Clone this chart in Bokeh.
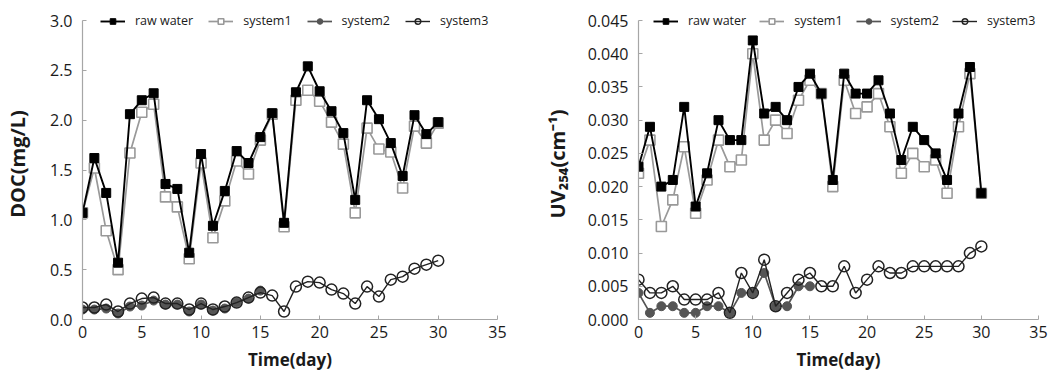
from bokeh.plotting import figure
from bokeh.layouts import row
from bokeh.models import Range1d, FixedTicker, Legend, LegendItem, NumeralTickFormatter
from bokeh.embed import file_html
from bokeh.resources import INLINE

days = list(range(31))
days_s2 = list(range(16))
x_ticks = [0, 5, 10, 15, 20, 25, 30, 35]
doc_ticks = [0.0, 0.5, 1.0, 1.5, 2.0, 2.5, 3.0]
uv_ticks = [0.0, 0.005, 0.010, 0.015, 0.020, 0.025, 0.030, 0.035, 0.040, 0.045]
series_names = ["raw water", "system1", "system2", "system3"]

doc_raw = [1.07, 1.62, 1.27, 0.57, 2.06, 2.20, 2.27, 1.36, 1.31, 0.67, 1.66, 0.94, 1.29, 1.69, 1.57, 1.83,
           2.07, 0.97, 2.28, 2.54, 2.29, 2.09, 1.87, 1.20, 2.20, 2.01, 1.77, 1.44, 2.05, 1.86, 1.98]
doc_s1 = [1.07, 1.52, 0.89, 0.50, 1.67, 2.08, 2.16, 1.23, 1.13, 0.61, 1.57, 0.82, 1.19, 1.59, 1.46, 1.80,
          2.06, 0.93, 2.20, 2.30, 2.19, 1.98, 1.76, 1.07, 1.92, 1.71, 1.68, 1.32, 1.94, 1.77, 1.97]
doc_s2 = [0.10, 0.10, 0.11, 0.06, 0.13, 0.14, 0.19, 0.15, 0.15, 0.08, 0.15, 0.09, 0.11, 0.17, 0.21, 0.29]
doc_s3 = [0.12, 0.12, 0.15, 0.08, 0.16, 0.21, 0.22, 0.16, 0.16, 0.10, 0.16, 0.10, 0.13, 0.17, 0.22, 0.27,
          0.24, 0.08, 0.33, 0.38, 0.37, 0.30, 0.26, 0.16, 0.33, 0.23, 0.40, 0.43, 0.51, 0.55, 0.59]

uv_raw = [0.023, 0.029, 0.020, 0.021, 0.032, 0.017, 0.022, 0.030, 0.027, 0.027, 0.042, 0.031, 0.032, 0.030,
          0.035, 0.037, 0.034, 0.021, 0.037, 0.034, 0.034, 0.036, 0.031, 0.024, 0.029, 0.027, 0.025, 0.021,
          0.031, 0.038, 0.019]
uv_s1 = [0.022, 0.027, 0.014, 0.018, 0.026, 0.016, 0.021, 0.027, 0.023, 0.024, 0.040, 0.027, 0.030, 0.028,
         0.033, 0.036, 0.034, 0.020, 0.036, 0.031, 0.032, 0.034, 0.029, 0.022, 0.025, 0.023, 0.024, 0.019,
         0.029, 0.037, 0.019]
uv_s2 = [0.004, 0.001, 0.002, 0.002, 0.001, 0.001, 0.002, 0.002, 0.001, 0.004, 0.004, 0.007, 0.002, 0.002,
         0.005, 0.005]
uv_s3 = [0.006, 0.004, 0.004, 0.005, 0.003, 0.003, 0.003, 0.004, 0.001, 0.007, 0.004, 0.009, 0.002, 0.004,
         0.006, 0.007, 0.005, 0.005, 0.008, 0.004, 0.006, 0.008, 0.007, 0.007, 0.008, 0.008, 0.008, 0.008,
         0.008, 0.010, 0.011]

FONT = "Open Sans"
AX = "#a6a6a6"
TXT = "#1a1a1a"


def make(width, ymax, yticks, yfmt, ylabel, raw, s1, s2, s3, bl, br, ylab_standoff, legend_x, spacing):
    # frame spans from 12px above the top tick to the x axis; headroom keeps the legend unclipped
    head = ymax * 12.0 / 299.0
    p = figure(width=width, height=373, output_backend="svg", toolbar_location=None,
               x_range=Range1d(0, 35), y_range=Range1d(0, ymax + head),
               min_border_left=bl, min_border_right=br, min_border_top=8, min_border_bottom=54)
    p.grid.visible = False
    p.outline_line_color = None
    for ax in (p.xaxis[0], p.yaxis[0]):
        ax.axis_line_color = AX
        ax.axis_line_width = 1.2
        ax.major_tick_line_color = AX
        ax.major_tick_in = 4
        ax.major_tick_out = 0
        ax.minor_tick_line_color = None
        ax.major_label_text_font = FONT
        ax.major_label_text_font_size = "16px"
        ax.major_label_text_color = TXT
        ax.axis_label_text_font = FONT
        ax.axis_label_text_font_style = "bold"
        ax.axis_label_text_color = TXT
    p.yaxis.bounds = (0, ymax)
    p.xaxis.ticker = FixedTicker(ticks=x_ticks)
    p.yaxis.ticker = FixedTicker(ticks=yticks)
    p.yaxis.formatter = NumeralTickFormatter(format=yfmt)
    p.xaxis.major_label_standoff = 6
    p.yaxis.major_label_standoff = 10
    p.xaxis.axis_label = "Time(day)"
    p.xaxis.axis_label_text_font_size = "17px"
    p.xaxis.axis_label_standoff = 7
    p.yaxis.axis_label = ylabel
    p.yaxis.axis_label_text_font_size = "20px"
    p.yaxis.axis_label_standoff = ylab_standoff

    l1 = p.line(days, s1, line_color="#999999", line_width=1.7)
    m1 = p.scatter(days, s1, marker="square", size=10, fill_color="white", line_color="#999999", line_width=1.6)
    l0 = p.line(days, raw, line_color="black", line_width=1.9)
    m0 = p.scatter(days, raw, marker="square", size=9, fill_color="black", line_color="black")
    l2 = p.line(days_s2, s2, line_color="#555555", line_width=1.7)
    m2 = p.scatter(days_s2, s2, marker="circle", size=9, fill_color="#555555", line_color="#555555")
    l3 = p.line(days, s3, line_color="#222222", line_width=1.4)
    m3 = p.scatter(days, s3, marker="circle", size=11, fill_color=None, line_color="#222222", line_width=1.5)

    items = [LegendItem(label=series_names[0], renderers=[l0, m0]),
             LegendItem(label=series_names[1], renderers=[l1, m1]),
             LegendItem(label=series_names[2], renderers=[l2, m2]),
             LegendItem(label=series_names[3], renderers=[l3, m3])]
    leg = Legend(items=items, orientation="horizontal", location=(legend_x, 290),
                 background_fill_alpha=0, border_line_color=None, padding=0, margin=0,
                 spacing=spacing, label_standoff=10, glyph_width=25, glyph_height=14,
                 label_text_font=FONT, label_text_font_size="12.5px", label_text_color=TXT,
                 label_height=16)
    p.add_layout(leg, "center")
    return p


p1 = make(540, 3.0, doc_ticks, "0.0", "DOC(mg/L)", doc_raw, doc_s1, doc_s2, doc_s3,
          74, 43, 16, 18, 15)
p2 = make(508, 0.045, uv_ticks, "0.000", "UV\u2082\u2085\u2084(cm\u207b\u00b9)", uv_raw, uv_s1, uv_s2, uv_s3,
          95, 10, 14, 15, 13)

layout = row(p1, p2)
open("out.html", "w").write(file_html(layout, INLINE))
